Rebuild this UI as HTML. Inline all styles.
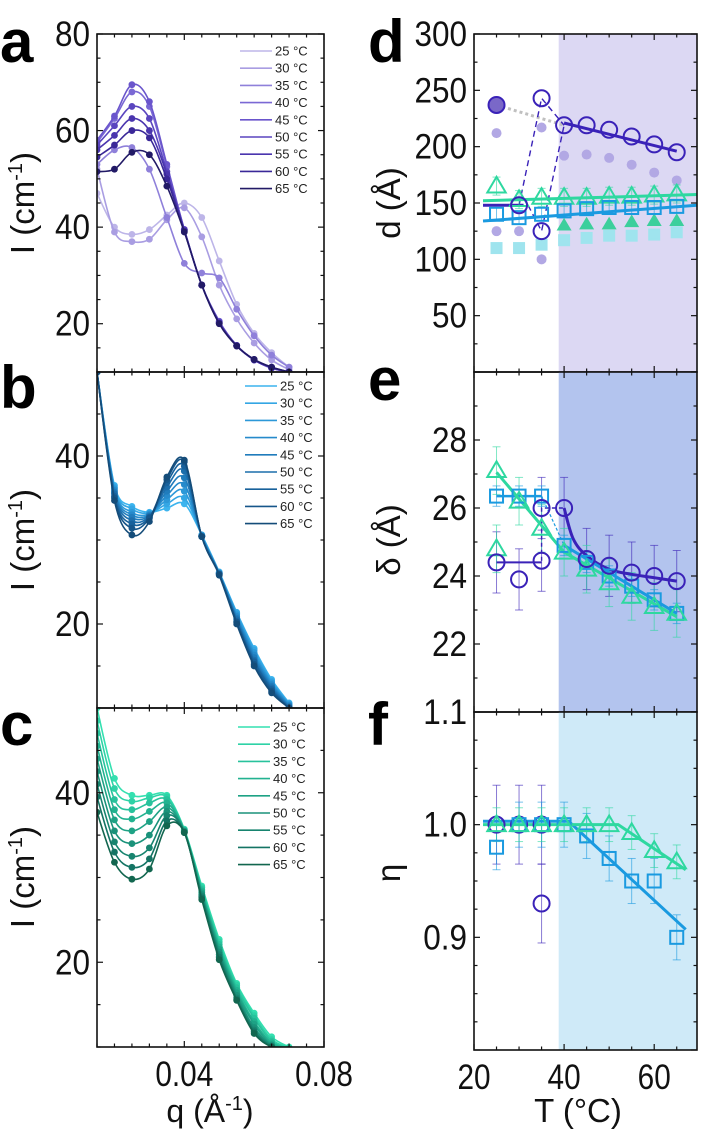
<!DOCTYPE html>
<html><head><meta charset="utf-8"><style>
html,body{margin:0;padding:0;background:#fff}
svg{display:block;font-family:"Liberation Sans",sans-serif}
</style></head><body>
<svg id="fig" width="703" height="1134" viewBox="0 0 703 1134" xmlns="http://www.w3.org/2000/svg"></svg>
<script>
const qGrid=[0.015,0.02,0.025,0.03,0.035,0.04,0.045,0.05,0.055,0.06,0.065,0.07];
const tempLabels=['25 °C','30 °C','35 °C','40 °C','45 °C','50 °C','55 °C','60 °C','65 °C'];
// panel a
const a25=[47,40,38.5,39.5,42.5,45,42,33,24,18,14,11];
const a30=[52,39,37,37.5,41.5,44,38,28,21,16,12.5,10.5];
const a35=[53,56,56.5,52,42,32.5,30.5,29.5,23,17.5,13.5,11];
const a40=[57.5,62.5,68,65,52.5,39.5,28,20.5,15.5,12.5,10.8,10];
const a45=[58,63,69.5,66,53,39.5,28,20.5,15.5,12.5,10.8,10];
const a50=[57,61,65,62.5,51.5,39.5,28,20.3,15.5,12.5,10.8,10];
const a55=[56,59,62.5,60,51,39.3,28,20.2,15.4,12.5,10.9,10];
const a60=[54.5,57,60,58.5,50,39.2,28,20.1,15.4,12.6,11,10];
const a65=[51.5,52,55.5,55,48.5,39,28,20,15.4,12.6,11,10];
// panel b
const b25=[50,36.5,34.0,33.3,33.8,34.3,30.6,26.2,21.4,17.1,13.4,10.6];
const b30=[50,36.3,33.7,33.2,34.3,35.0,30.6,26.1,21.3,16.9,13.2,10.5];
const b35=[50,36.1,33.3,33.1,34.8,35.8,30.5,26.1,21.1,16.6,13.0,10.4];
const b40=[50,35.9,33.0,33.0,35.3,36.6,30.5,26.0,20.9,16.3,12.8,10.3];
const b45=[50,35.7,32.7,32.9,35.8,37.4,30.5,26.0,20.7,16.0,12.6,10.2];
const b50=[50,35.5,32.3,32.8,36.3,38.2,30.4,26.0,20.5,15.7,12.4,10.1];
const b55=[50,35.2,31.9,32.7,36.8,38.8,30.4,25.9,20.3,15.5,12.2,10.0];
const b60=[50,35.0,31.4,32.6,37.2,39.3,30.4,25.9,20.2,15.2,12.0,10.0];
const b65=[50,34.7,30.6,32.2,37.5,39.5,30.4,25.8,20.0,15.0,11.8,10.0];
// panel c
const c25=[50,41.7,39.7,39.7,39.7,35.7,29.0,22.7,17.5,14.0,11.2,10.0];
const c30=[48.5,40.5,39.0,39.4,39.5,35.6,28.8,22.4,17.3,13.7,10.9,9.9];
const c35=[47,39.2,38.0,38.8,39.2,35.6,28.6,22.1,17.0,13.4,10.7,9.8];
const c40=[45.5,38.0,36.9,37.8,38.8,35.5,28.4,21.8,16.7,13.0,10.5,9.8];
const c45=[44,36.8,35.5,36.6,38.3,35.5,28.2,21.5,16.4,12.7,10.3,9.7];
const c50=[42.5,35.5,34.0,35.0,37.8,35.4,28.0,21.2,16.1,12.3,10.2,9.7];
const c55=[41,34.2,32.5,33.5,37.3,35.4,27.8,20.9,15.8,12.0,10.1,9.6];
const c60=[39.5,33.0,31.2,32.2,36.7,35.3,27.6,20.6,15.6,11.8,10.0,9.6];
const c65=[37.7,31.8,29.8,31.0,36.1,35.3,27.4,20.3,15.5,11.6,10.0,9.5];
// panel d,e,f
const temps=[25,30,35,40,45,50,55,60,65];
const dCircleT=[30,35,35,40,45,50,55,60,65];
const dCircle=[148,243,125,219,219,215,209,202,195];
const dFilledCircleT=[25], dFilledCircle=[237];
const dFaintCircleT=[25,25,30,35,35,40,45,50,55,60,65];
const dFaintCircle=[212,125,125,217,100,192,193,190,184,177,170];
const dTri=[165,153,155,155,155,156,156,157,158];
const dSq=[140,137,140,143,145,146,146,146,147];
const dFaintTriT=[40,45,50,55,60,65], dFaintTri=[130,131,131,133,134,134];
const dFaintSq=[110,110,113,117,119,121,121,122,124];
const eCircleT=[25,30,35,35,40,45,50,55,60,65];
const eCircle=[24.4,23.9,24.45,26.0,26.0,24.5,24.3,24.1,24.0,23.85];
const eSq=[26.35,26.35,26.35,24.9,24.4,24.0,23.7,23.3,22.9];
const eTriT=[25,25,30,35,40,45,50,55,60,65];
const eTri=[27.1,24.8,26.2,25.4,24.7,24.2,23.8,23.4,23.1,22.9];
const fCircleT=[25,30,35,35], fCircle=[1.0,1.0,1.0,0.93];
const fSq=[0.98,1.0,1.0,1.0,0.99,0.97,0.95,0.95,0.90];
const fTri=[1.0,1.0,1.0,1.0,1.0,1.0,0.993,0.977,0.967];

const NS='http://www.w3.org/2000/svg';
const svg=document.getElementById('fig');
function mk(tag,attrs,parent){const e=document.createElementNS(NS,tag);for(const k in attrs)e.setAttribute(k,attrs[k]);(parent||svg).appendChild(e);return e;}
function txt(s,attrs,parent){const e=mk('text',attrs,parent);e.textContent=s;return e;}
function smooth(pts){let d='M'+pts[0][0]+','+pts[0][1];for(let i=0;i<pts.length-1;i++){const p0=pts[i-1]||pts[i],p1=pts[i],p2=pts[i+1],p3=pts[i+2]||p2;
d+=' C'+(p1[0]+(p2[0]-p0[0])/6)+','+(p1[1]+(p2[1]-p0[1])/6)+' '+(p2[0]-(p3[0]-p1[0])/6)+','+(p2[1]-(p3[1]-p1[1])/6)+' '+p2[0]+','+p2[1];}return d;}

let clipId=0;
function panel(o){
  const g=mk('g',{});
  
  
  const sx=v=>o.x0+(v-o.xmin)/(o.xmax-o.xmin)*(o.x1-o.x0);
  const sy=v=>o.y1-(v-o.ymin)/(o.ymax-o.ymin)*(o.y1-o.y0);
  if(o.shade){const r=mk('rect',{x:sx(o.shade[0]),y:o.y0,width:o.x1-sx(o.shade[0]),height:o.y1-o.y0,fill:o.shade[1]},g);
    
    }
  const id='clip'+(clipId++);
  const cp=mk('clipPath',{id:id},g);mk('rect',{x:o.x0,y:o.y0,width:o.x1-o.x0,height:o.y1-o.y0},cp);
  const plot=mk('g',{'clip-path':'url(#'+id+')'},g);
  o.draw(plot,sx,sy);
  mk('rect',{x:o.x0,y:o.y0,width:o.x1-o.x0,height:o.y1-o.y0,fill:'none',stroke:'#111','stroke-width':1.6},g);
  const ax=mk('g',{stroke:'#111','stroke-width':1.2},g);
  for(let v=o.ymin;v<=o.ymax+1e-9;v+=o.yminor){const y=sy(v);const maj=Math.abs(Math.round(v/o.ymajor)*o.ymajor-v)<1e-6;const L=maj?6:3.5;
    mk('line',{x1:o.x0,x2:o.x0+L,y1:y,y2:y},ax);mk('line',{x1:o.x1,x2:o.x1-L,y1:y,y2:y},ax);}
  for(let v=o.xmin;v<=o.xmax+1e-9;v+=o.xminor){const x=sx(v);const maj=Math.abs(Math.round(v/o.xmajor)*o.xmajor-v)<1e-6;const L=maj?6:3.5;
    mk('line',{x1:x,x2:x,y1:o.y1,y2:o.y1-L},ax);mk('line',{x1:x,x2:x,y1:o.y0,y2:o.y0+L},ax);}
  o.yticks.forEach((t,i)=>{const e=txt(t,{transform:'translate('+(o.x0-7)+','+(sy(o.ytickVals[i])+12)+') scale(0.9,1)',x:0,y:0,'text-anchor':'end','font-size':35,fill:'#111'},g);
    
    });
  if(o.xticks)o.xticks.forEach((t,i)=>{const e=txt(t,{transform:'translate('+sx(o.xtickVals[i])+','+(o.y1+39)+') scale(0.85,1)',x:0,y:0,'text-anchor':'middle','font-size':35,fill:'#111'},g);
    
    });
  return {sx,sy,g};
}
function letter(s,x,y){const e=txt(s,{x:x,y:y,'font-size':60,'font-weight':'bold',fill:'#000'});
  
  }
function ytitle(s,x,y,name,sup){const e=txt('',{transform:'translate('+x+','+y+') rotate(-90)','text-anchor':'middle','font-size':33,fill:'#111'});
  
  
  if(sup){const t1=mk('tspan',{},e);t1.textContent=s;const t2=mk('tspan',{dy:-12,'font-size':20},e);t2.textContent=sup;const t3=mk('tspan',{dy:12},e);t3.textContent=')';}
  else e.textContent=s;}

function saxsPanel(name,y0,y1,ymax,series,colors,ticks,tickVals,legY,legX,xt){
  const P=panel({name:name,x0:97,x1:324,y0:y0,y1:y1,xmin:0.015,xmax:0.08,ymin:10,ymax:ymax,xminor:0.005,xmajor:0.04,yminor:5,ymajor:20,
    yticks:ticks,ytickVals:tickVals,xticks:xt?['0.04','0.08']:null,xtickVals:[0.04,0.08],
    draw:(g,sx,sy)=>{series.forEach((s,i)=>{const pts=s.map((v,j)=>[sx(qGrid[j]),sy(v)]);
      const p=mk('path',{d:smooth(pts),fill:'none',stroke:colors[i],'stroke-width':1.6},g);
      
      
      pts.forEach(pt=>{const c=mk('circle',{cx:pt[0],cy:pt[1],r:3.4,fill:colors[i]},g);
        
        });});}});
  const lg=mk('g',{},P.g);
  
  
  tempLabels.forEach((t,i)=>{const y=legY+i*17.2;mk('line',{x1:legX,x2:legX+32,y1:y,y2:y,stroke:colors[i],'stroke-width':1.6},lg);
    const e=txt(t,{x:legX+35,y:y+4.5,'font-size':13,fill:'#222'},lg);
    
    });
}
const colA=['#bdb5e8','#a99de2','#8f80da','#7a68d4','#6a55cc','#5a45bf','#4a35ae','#3a2898','#221a66'];
const colB=['#3cb4ee','#34a6e4','#2c98d8','#268acb','#207cbc','#1c6eac','#18619b','#16568a','#144c79'];
const colC=['#34e0b0','#2ed2a6','#28c29c','#22b290','#1ea285','#1a927a','#17846f','#147464','#12664f'];
saxsPanel('panel-a',34,372,80,[a25,a30,a35,a40,a45,a50,a55,a60,a65],colA,['80','60','40','20'],[80,60,40,20],51,240,false);
saxsPanel('panel-b',372,708,50,[b25,b30,b35,b40,b45,b50,b55,b60,b65],colB,['40','20'],[40,20],386,245,false);
saxsPanel('panel-c',708,1047,50,[c25,c30,c35,c40,c45,c50,c55,c60,c65],colC,['40','20'],[40,20],727,238,true);
letter('a',0,62);letter('b',0,408);letter('c',0,745);
ytitle('I (cm',34,203,'y-axis-title-a','-1');ytitle('I (cm',34,540,'y-axis-title-b','-1');ytitle('I (cm',34,877,'y-axis-title-c','-1');
{const e=txt('',{x:210,y:1122,'text-anchor':'middle','font-size':32,fill:'#111'});
 
 
 const a=mk('tspan',{},e);a.textContent='q (Å';const b=mk('tspan',{dy:-12,'font-size':20},e);b.textContent='-1';const c=mk('tspan',{dy:12},e);c.textContent=')';}

const PUR='#3a22b8',GRN='#2ed8a0',BLU='#1a9ae0';
function marker(g,type,x,y,col,r,fill,name){let e;
  if(type==='c')e=mk('circle',{cx:x,cy:y,r:r,fill:fill||'none',stroke:col,'stroke-width':2},g);
  else if(type==='s')e=mk('rect',{x:x-r,y:y-r,width:2*r,height:2*r,fill:fill||'none',stroke:col,'stroke-width':2},g);
  else e=mk('polygon',{points:(x)+','+(y-r*1.15)+' '+(x-r*1.15)+','+(y+r*0.8)+' '+(x+r*1.15)+','+(y+r*0.8),fill:fill||'none',stroke:col,'stroke-width':2},g);
  
  }
function line(g,sx,sy,xs,ys,col,w,dash,name){const p=mk('path',{d:xs.map((x,i)=>(i?'L':'M')+sx(x)+','+sy(ys[i])).join(''),fill:'none',stroke:col,'stroke-width':w,'stroke-dasharray':dash||'none'},g);
  
  }
function err(g,x,y1,y2,col){mk('line',{x1:x,x2:x,y1:y1,y2:y2,stroke:col,'stroke-width':1,opacity:0.6},g);
  mk('line',{x1:x-4,x2:x+4,y1:y1,y2:y1,stroke:col,'stroke-width':1,opacity:0.6},g);mk('line',{x1:x-4,x2:x+4,y1:y2,y2:y2,stroke:col,'stroke-width':1,opacity:0.6},g);}
const T={x0:474,x1:697,xmin:20,xmax:69.5,xminor:5,xmajor:20};

panel(Object.assign({},T,{name:'panel-d',y0:34,y1:372,ymin:0,ymax:300,yminor:25,ymajor:50,shade:[38.8,'#dcd8f3'],
  yticks:['300','250','200','150','100','50'],ytickVals:[300,250,200,150,100,50],
  draw:(g,sx,sy)=>{
    dFaintSq.forEach((v,i)=>marker(g,'s',sx(temps[i]),sy(v),'#9fe4ee',5,'#9fe4ee','faint-square'));
    dFaintTri.forEach((v,i)=>marker(g,'t',sx(dFaintTriT[i]),sy(v),'#3ccf9c',5,'#3ccf9c','faint-triangle'));
    dFaintCircle.forEach((v,i)=>{const c=mk('circle',{cx:sx(dFaintCircleT[i]),cy:sy(v),r:5,fill:'#b2a8e4'},g);
      
      });
    line(g,sx,sy,[25,40],[dFilledCircle[0],dCircle[3]],'#c0c0c0',3,'3,3','grey-dotted-line');
    line(g,sx,sy,[30,35,40],[dCircle[0],dCircle[1],dCircle[3]],PUR,1.4,'6,4','purple-dashed-line');
    line(g,sx,sy,[32,35,40],[dCircle[0],dCircle[2],dCircle[3]],PUR,1.4,'6,4','purple-dashed-line-2');
    line(g,sx,sy,[22,31],[dCircle[0],dCircle[0]],PUR,3,null,'purple-low-line');
    line(g,sx,sy,[40,65],[221,196],PUR,3,null,'purple-fit-line');
    line(g,sx,sy,[22,69.5],[152,157.5],GRN,3,null,'green-fit-line');
    line(g,sx,sy,[22,69.5],[134,148],BLU,3,null,'blue-fit-line');
    dTri.forEach((v,i)=>{err(g,sx(temps[i]),sy(v+8),sy(v-8),GRN);marker(g,'t',sx(temps[i]),sy(v),GRN,8,null,'triangle-point');});
    dSq.forEach((v,i)=>{err(g,sx(temps[i]),sy(v+6),sy(v-6),BLU);marker(g,'s',sx(temps[i]),sy(v),BLU,6.5,null,'square-point');});
    dCircle.forEach((v,i)=>marker(g,'c',sx(dCircleT[i]),sy(v),PUR,8,null,'circle-point'));
    marker(g,'c',sx(dFilledCircleT[0]),sy(dFilledCircle[0]),PUR,8,'#7a68c8','filled-circle-point');
  }}));
panel(Object.assign({},T,{name:'panel-e',y0:372,y1:712,ymin:20,ymax:30,yminor:1,ymajor:2,shade:[38.8,'#b3c4ee'],
  yticks:['28','26','24','22'],ytickVals:[28,26,24,22],
  draw:(g,sx,sy)=>{
    eCircle.forEach((v,i)=>err(g,sx(eCircleT[i]),sy(v+0.9),sy(v-0.9),PUR));
    eTri.forEach((v,i)=>err(g,sx(eTriT[i]),sy(v+0.7),sy(v-0.7),GRN));
    eSq.forEach((v,i)=>err(g,sx(temps[i]),sy(v+0.3),sy(v-0.3),BLU));
    line(g,sx,sy,[25,35],[eCircle[0],eCircle[0]],PUR,2,null,'purple-flat-line');
    line(g,sx,sy,[35,35,40],[eCircle[2],eCircle[3],eCircle[4]],PUR,1.4,'4,3','purple-dashed-line');
    const cp=[40,42,45,50,55,60,65].map((t,i)=>[sx(t),sy([26.0,25.1,24.6,24.2,24.05,23.95,23.85][i])]);
    const p=mk('path',{d:smooth(cp),fill:'none',stroke:PUR,'stroke-width':3},g);
    
    
    line(g,sx,sy,[25,35],[eSq[0],eSq[2]],BLU,2.5,null,'blue-flat-line');
    line(g,sx,sy,[35,40],[eSq[2],eSq[3]],BLU,1.2,'3,2','blue-dashed-line');
    line(g,sx,sy,[40,65],[eSq[3],22.9],BLU,3,null,'blue-fit-line');
    line(g,sx,sy,[25,40,65],[27.05,24.7,22.8],GRN,3,null,'green-fit-line');
    eSq.forEach((v,i)=>marker(g,'s',sx(temps[i]),sy(v),BLU,6.5,null,'square-point'));
    eTri.forEach((v,i)=>marker(g,'t',sx(eTriT[i]),sy(v),GRN,8,null,'triangle-point'));
    eCircle.forEach((v,i)=>marker(g,'c',sx(eCircleT[i]),sy(v),PUR,8,null,'circle-point'));
  }}));
panel(Object.assign({},T,{name:'panel-f',y0:712,y1:1050,ymin:0.8,ymax:1.1,yminor:0.025,ymajor:0.1,shade:[38.8,'#cfeaf8'],
  yticks:['1.1','1.0','0.9'],ytickVals:[1.1,1.0,0.9],xticks:['20','40','60'],xtickVals:[20,40,60],
  draw:(g,sx,sy)=>{
    fCircle.forEach((v,i)=>err(g,sx(fCircleT[i]),sy(v+0.035),sy(v-0.035),PUR));
    fSq.forEach((v,i)=>err(g,sx(temps[i]),sy(v+0.02),sy(v-0.02),BLU));
    fTri.forEach((v,i)=>err(g,sx(temps[i]),sy(v+0.015),sy(v-0.015),GRN));
    line(g,sx,sy,[22,41,67],[1.003,1.003,0.907],BLU,3,null,'blue-fit-line');
    line(g,sx,sy,[22,52,67],[1.0,1.0,0.96],GRN,3,null,'green-fit-line');
    fCircle.forEach((v,i)=>marker(g,'c',sx(fCircleT[i]),sy(v),PUR,8,null,'circle-point'));
    fSq.forEach((v,i)=>marker(g,'s',sx(temps[i]),sy(v),BLU,6.5,null,'square-point'));
    fTri.forEach((v,i)=>marker(g,'t',sx(temps[i]),sy(v),GRN,8,null,'triangle-point'));
  }}));
letter('d',368,62);letter('e',368,400);letter('f',368,745);
ytitle('d (Å)',400,203,'y-axis-title-d');ytitle('δ (Å)',400,540,'y-axis-title-e');ytitle('η',400,873,'y-axis-title-f');
{const e=txt('T (°C)',{x:578,y:1122,'text-anchor':'middle','font-size':33,fill:'#111'});
 
 }
</script>
</body></html>
